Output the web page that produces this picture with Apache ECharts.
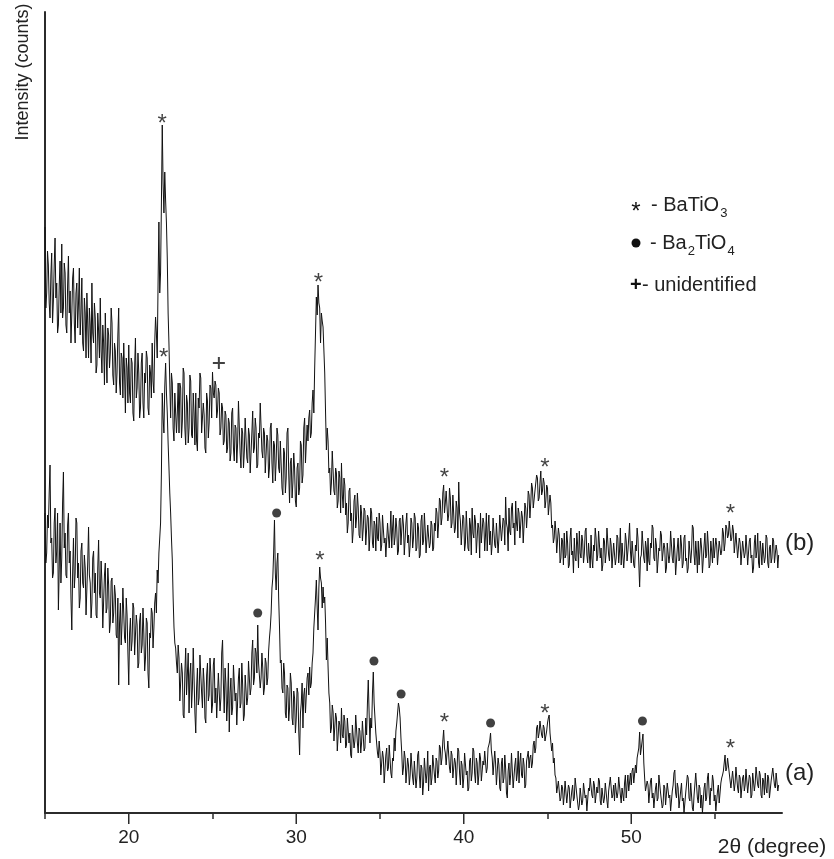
<!DOCTYPE html>
<html>
<head>
<meta charset="utf-8">
<title>XRD patterns</title>
<script src="https://cdn.jsdelivr.net/npm/echarts@6/dist/echarts.min.js"></script>
<style>
  html, body { margin: 0; padding: 0; background: #fff; }
  #chart { width: 834px; height: 859px; }
</style>
</head>
<body>
<div id="chart"></div>
<script>
// scan: 15.00 .. 58.80 deg, step 0.05 (one row = 1 deg)
const startAngle = 15
const stepAngle = 0.05

// sample (b), intensity
const intensityB = [
  586, 505, 520, 562, 548, 510, 495, 538, 560, 490, 512, 548, 575, 515, 530, 480, 488, 528, 552, 500,
  569, 495, 505, 550, 540, 488, 480, 528, 557, 500, 522, 470, 498, 535, 545, 490, 470, 520, 530, 485,
  510, 545, 478, 500, 535, 470, 462, 515, 500, 455, 520, 490, 455, 505, 488, 450, 530, 480, 470, 510,
  495, 440, 448, 500, 482, 455, 515, 462, 440, 488, 470, 428, 500, 460, 430, 485, 478, 445, 460, 505,
  490, 438, 428, 470, 462, 420, 440, 478, 505, 430, 418, 460, 455, 415, 470, 440, 400, 455, 445, 410,
  468, 420, 410, 455, 450, 400, 392, 445, 475, 415, 425, 460, 440, 395, 405, 450, 460, 410, 395, 440,
  430, 462, 455, 405, 398, 448, 440, 415, 470, 432, 420, 470, 496, 480, 455, 530, 591, 520, 540, 610,
  688, 630, 600, 641, 613, 590, 555, 500, 470, 430, 395, 440, 430, 385, 372, 420, 418, 380, 400, 430,
  380, 430, 425, 375, 392, 445, 440, 385, 368, 418, 410, 370, 385, 438, 432, 378, 375, 420, 400, 368,
  420, 372, 362, 415, 405, 440, 435, 380, 378, 410, 398, 365, 360, 420, 412, 375, 390, 428, 425, 395,
  441, 420, 415, 432, 428, 395, 402, 425, 420, 378, 385, 410, 405, 368, 372, 402, 398, 360, 365, 395,
  390, 352, 360, 400, 405, 365, 352, 388, 385, 350, 370, 412, 412, 360, 345, 385, 380, 345, 362, 395,
  395, 355, 350, 385, 378, 340, 340, 380, 402, 360, 365, 395, 385, 345, 348, 380, 375, 410, 410, 362,
  355, 385, 380, 340, 338, 378, 372, 335, 345, 385, 390, 350, 330, 372, 368, 332, 352, 385, 378, 345,
  340, 372, 372, 325, 318, 365, 360, 320, 335, 380, 385, 340, 310, 350, 355, 315, 330, 360, 345, 312,
  306, 345, 350, 318, 325, 372, 368, 330, 338, 385, 395, 350, 352, 388, 372, 395, 403, 375, 380, 410,
  423, 400, 445, 480, 516, 498, 528, 510, 505, 470, 500, 492, 486, 463, 440, 400, 363, 385, 372, 340,
  345, 318, 330, 362, 360, 322, 318, 345, 340, 305, 312, 342, 335, 300, 350, 318, 305, 335, 328, 298,
  310, 280, 290, 322, 325, 292, 300, 270, 282, 312, 318, 285, 295, 320, 305, 278, 275, 308, 300, 272,
  285, 305, 302, 268, 270, 298, 295, 262, 278, 305, 300, 270, 265, 292, 288, 262, 296, 275, 272, 300,
  290, 262, 268, 298, 300, 270, 275, 256, 258, 290, 292, 265, 280, 302, 265, 285, 298, 268, 276, 295,
  285, 258, 262, 292, 295, 268, 270, 298, 288, 258, 260, 290, 300, 270, 278, 256, 268, 295, 290, 265,
  275, 300, 295, 262, 265, 290, 285, 255, 258, 292, 298, 268, 272, 300, 282, 260, 262, 288, 290, 265,
  270, 292, 288, 262, 265, 290, 282, 305, 300, 275, 290, 315, 312, 288, 295, 320, 328, 300, 310, 322,
  320, 292, 298, 325, 315, 285, 290, 318, 318, 280, 285, 312, 305, 275, 331, 300, 292, 268, 270, 298,
  295, 262, 270, 302, 300, 265, 262, 295, 288, 258, 305, 280, 275, 298, 292, 260, 258, 290, 285, 255,
  300, 270, 268, 295, 290, 262, 278, 300, 262, 285, 298, 268, 282, 258, 270, 295, 295, 268, 265, 290,
  288, 260, 275, 298, 300, 272, 270, 295, 292, 268, 316, 290, 285, 262, 305, 282, 278, 305, 310, 285,
  290, 268, 312, 290, 282, 305, 300, 275, 275, 302, 296, 270, 288, 310, 305, 285, 300, 322, 318, 295,
  310, 330, 325, 305, 305, 322, 320, 338, 335, 312, 315, 330, 342, 318, 322, 335, 330, 305, 312, 328,
  325, 298, 300, 318, 310, 285, 288, 270, 275, 292, 282, 260, 262, 285, 278, 250, 255, 275, 272, 248,
  280, 255, 258, 282, 270, 245, 248, 275, 285, 258, 262, 240, 275, 255, 252, 280, 268, 245, 282, 260,
  255, 278, 272, 250, 260, 282, 285, 258, 250, 270, 268, 245, 278, 255, 245, 268, 262, 285, 275, 252,
  258, 282, 280, 255, 265, 242, 248, 275, 272, 250, 260, 285, 283, 258, 252, 275, 268, 245, 245, 270,
  270, 248, 255, 278, 275, 250, 262, 285, 248, 270, 268, 245, 258, 280, 272, 252, 262, 275, 290, 262,
  250, 272, 270, 248, 245, 268, 262, 285, 275, 250, 226, 255, 258, 282, 280, 255, 250, 272, 265, 242,
  275, 252, 248, 270, 265, 288, 285, 255, 252, 275, 268, 240, 240, 265, 262, 282, 278, 252, 250, 270,
  265, 240, 245, 270, 272, 250, 258, 282, 282, 255, 250, 275, 262, 238, 240, 265, 275, 252, 255, 278,
  268, 245, 250, 275, 278, 252, 255, 240, 245, 272, 270, 250, 262, 288, 285, 258, 248, 272, 260, 240,
  272, 248, 250, 275, 265, 240, 242, 268, 280, 255, 258, 282, 268, 245, 248, 272, 262, 250, 275, 255,
  255, 275, 268, 248, 250, 272, 272, 258, 262, 285, 280, 262, 270, 288, 285, 275, 278, 292, 290, 272,
  275, 288, 282, 260, 262, 280, 278, 255, 255, 275, 270, 248, 248, 272, 272, 255, 260, 278, 265, 248,
  250, 272, 275, 255, 258, 240, 245, 270, 278, 255, 262, 280, 250, 245, 272, 262, 248, 270, 268, 250,
  256, 278, 275, 250, 245, 265, 268, 250, 255, 275, 272, 250, 250, 268, 262, 245, 258
]

// sample (a)
const intensityA = [
  300, 250, 260, 298, 285, 320, 348, 270, 275, 235, 240, 290, 305, 250, 262, 300, 203, 245, 290, 230,
  255, 310, 341, 265, 280, 238, 235, 288, 300, 250, 262, 215, 183, 240, 275, 225, 240, 295, 290, 235,
  250, 205, 215, 262, 270, 230, 225, 258, 245, 198, 200, 250, 286, 238, 230, 195, 210, 255, 262, 220,
  240, 198, 195, 245, 273, 220, 215, 252, 230, 185, 185, 238, 250, 200, 205, 245, 228, 180, 190, 232,
  235, 190, 200, 228, 218, 178, 175, 215, 128, 190, 210, 168, 190, 225, 225, 175, 170, 215, 198, 160,
  128, 180, 195, 162, 172, 210, 205, 158, 160, 198, 188, 145, 150, 192, 200, 160, 168, 205, 180, 142,
  155, 195, 190, 140, 125, 180, 175, 205, 200, 165, 185, 210, 220, 200, 243, 230, 260, 275, 290, 340,
  420, 395, 380, 426, 450, 420, 400, 370, 346, 320, 300, 275, 253, 215, 186, 170, 165, 150, 140, 168,
  155, 112, 110, 150, 140, 98, 95, 140, 165, 118, 120, 160, 100, 138, 150, 105, 125, 165, 135, 100,
  80, 125, 145, 108, 115, 158, 160, 120, 105, 145, 130, 95, 90, 138, 150, 112, 118, 155, 140, 100,
  108, 148, 155, 110, 125, 95, 95, 140, 140, 102, 115, 160, 173, 130, 100, 145, 130, 92, 112, 150,
  81, 120, 135, 98, 105, 148, 150, 112, 120, 88, 90, 135, 145, 105, 110, 150, 128, 92, 98, 138,
  140, 108, 115, 152, 150, 118, 125, 160, 173, 128, 135, 165, 160, 140, 188, 150, 150, 125, 135, 160,
  145, 118, 125, 155, 150, 128, 135, 162, 175, 185, 200, 225, 235, 260, 293, 240, 223, 250, 260, 215,
  186, 150, 153, 125, 120, 150, 140, 100, 95, 128, 125, 92, 105, 140, 130, 95, 88, 122, 115, 80,
  95, 125, 120, 82, 58, 100, 110, 130, 85, 118, 125, 100, 100, 135, 140, 118, 146, 125, 130, 150,
  160, 185, 200, 215, 233, 205, 183, 225, 246, 235, 230, 205, 226, 210, 216, 190, 153, 175, 146, 120,
  110, 80, 85, 108, 101, 72, 70, 100, 95, 62, 60, 92, 88, 70, 105, 78, 75, 98, 92, 65,
  68, 95, 95, 70, 80, 58, 55, 88, 88, 65, 72, 98, 98, 70, 60, 85, 82, 60, 70, 92,
  90, 62, 65, 95, 78, 110, 133, 100, 70, 95, 85, 120, 141, 110, 95, 80, 70, 60, 55, 72,
  60, 38, 40, 62, 55, 30, 30, 58, 65, 42, 45, 68, 70, 40, 35, 55, 52, 75, 62, 82,
  90, 100, 110, 105, 95, 75, 60, 38, 45, 62, 55, 30, 32, 55, 48, 28, 38, 60, 58, 35,
  28, 52, 50, 25, 35, 58, 62, 38, 25, 48, 45, 18, 30, 55, 55, 30, 40, 62, 22, 45,
  48, 28, 35, 58, 60, 38, 30, 55, 52, 35, 42, 68, 65, 48, 55, 72, 83, 65, 60, 48,
  50, 72, 70, 45, 40, 62, 58, 35, 33, 55, 50, 28, 45, 65, 62, 40, 28, 52, 48, 25,
  35, 60, 58, 38, 42, 22, 25, 52, 55, 32, 40, 65, 62, 40, 30, 55, 50, 28, 38, 60,
  55, 32, 30, 52, 48, 62, 60, 40, 45, 65, 68, 72, 80, 62, 55, 38, 40, 62, 50, 28,
  30, 55, 48, 25, 22, 50, 55, 30, 35, 58, 45, 20, 15, 42, 50, 28, 38, 60, 42, 25,
  25, 48, 55, 32, 40, 62, 30, 50, 60, 38, 35, 55, 48, 25, 28, 52, 50, 62, 45, 55,
  58, 45, 50, 68, 72, 60, 65, 85, 88, 75, 80, 92, 93, 78, 75, 88, 85, 72, 70, 82,
  90, 95, 98, 80, 78, 62, 70, 50, 55, 38, 35, 20, 22, 32, 30, 12, 15, 28, 25, 8,
  18, 32, 30, 10, 10, 28, 25, 5, 5, 22, 28, 12, 15, 35, 35, 18, 20, 3, 8, 25,
  25, 8, 12, 30, 30, 15, 18, 2, 3, 25, 22, 35, 36, 18, 15, 32, 28, 10, 10, 26,
  20, 35, 32, 12, 8, 25, 25, 10, 15, 30, 30, 12, 5, 22, 22, 36, 34, 15, 18, 28,
  12, 30, 28, 15, 20, 36, 35, 18, 10, 25, 25, 12, 30, 38, 15, 28, 38, 22, 22, 40,
  28, 42, 45, 30, 30, 48, 40, 55, 55, 65, 81, 58, 60, 72, 79, 50, 35, 22, 20, 32,
  28, 10, 12, 32, 35, 15, 20, 5, 5, 25, 30, 12, 15, 38, 40, 20, 22, 5, 8, 28,
  25, 8, 10, 30, 32, 15, 18, 2, 3, 22, 28, 40, 43, 20, 15, 30, 25, 5, 5, 22,
  30, 12, 15, 0, 0, 20, 22, 38, 35, 15, 12, 30, 28, 5, 2, 18, 20, 40, 38, 15,
  10, 28, 25, 5, 18, 0, 0, 25, 30, 12, 15, 35, 40, 20, 8, 25, 22, 38, 32, 12,
  18, 2, 0, 22, 28, 10, 12, 30, 35, 38, 42, 50, 58, 42, 45, 55, 55, 40, 38, 25,
  25, 42, 40, 22, 30, 46, 45, 25, 20, 38, 35, 15, 15, 35, 38, 22, 28, 44, 42, 20,
  22, 38, 35, 15, 18, 40, 40, 22, 30, 46, 46, 28, 25, 42, 38, 18, 15, 35, 32, 18,
  40, 25, 20, 38, 35, 15, 13, 32, 30, 45, 45, 28, 25, 40, 38, 22, 28
]

// peak marks [2theta, height]
const starMarks = [
  [21.99, 695], [31.33, 536], [38.85, 341], [44.84, 351], [55.92, 305],
  [22.09, 461], [31.41, 258], [38.85, 96], [44.84, 105], [55.92, 70]
]
const dotMarks = [[27.7, 200], [28.83, 300], [34.64, 152], [36.26, 119], [41.6, 90], [50.67, 92]]
const plusMarks = [[25.38, 450]]

const majorTicks = [20, 30, 40, 50]
const minorTicks = [15, 25, 35, 45, 55]

const FONT = "'Liberation Sans', Arial, Helvetica, sans-serif"
const INK = '#111'
const AXIS = '#2b2b2b'

const toPairs = (arr) => arr.map((v, i) => [Math.round((startAngle + i * stepAngle) * 100) / 100, v])

const chart = echarts.init(document.getElementById('chart'), null, {renderer: 'canvas'})

// long ticks under the labelled values, placed with the x scale
function renderMajorTick(params, api) {
  const p = api.coord([api.value(0), 0])
  return {
    type: 'line',
    shape: {x1: p[0], y1: p[1], x2: p[0], y2: p[1] + 11},
    style: {stroke: AXIS, lineWidth: 1.5}
  }
}

const option = {
  animation: false,
  backgroundColor: '#fff',
  textStyle: {fontFamily: FONT},
  grid: {left: 45, right: 52, top: 12, bottom: 46},
  xAxis: [
    {
      // line and labels every 10 deg
      type: 'value',
      min: 15,
      max: 59,
      axisLine: {show: true, onZero: false, lineStyle: {color: AXIS, width: 2}},
      axisTick: {show: false},
      axisLabel: {show: true, customValues: majorTicks.slice(), margin: 15, fontSize: 19, color: '#222', fontFamily: FONT},
      splitLine: {show: false}
    },
    {
      // short ticks at the half-decades
      type: 'value',
      min: 15,
      max: 59,
      position: 'bottom',
      axisLine: {show: false, onZero: false},
      axisTick: {show: true, customValues: minorTicks.slice(), length: 6, lineStyle: {color: AXIS, width: 1.5}},
      axisLabel: {show: false},
      splitLine: {show: false}
    }
  ],
  yAxis: {
    type: 'value',
    min: 0,
    max: 801,
    axisLine: {show: true, lineStyle: {color: AXIS, width: 2}},
    axisTick: {show: false},
    axisLabel: {show: false},
    splitLine: {show: false}
  },
  series: [
    {
      name: '(a)',
      type: 'line',
      data: toPairs(intensityA),
      showSymbol: false,
      symbol: 'none',
      lineStyle: {color: INK, width: 1},
      z: 2
    },
    {
      name: '(b)',
      type: 'line',
      data: toPairs(intensityB),
      showSymbol: false,
      symbol: 'none',
      lineStyle: {color: INK, width: 1},
      z: 2
    },
    {
      name: 'BaTiO3',
      type: 'scatter',
      data: starMarks,
      symbolSize: 0,
      label: {show: true, position: 'inside', formatter: '*', fontSize: 24, color: INK, offset: [0, 6], fontFamily: FONT},
      z: 3
    },
    {
      name: 'Ba2TiO4',
      type: 'scatter',
      data: dotMarks,
      symbol: 'circle',
      symbolSize: 9,
      itemStyle: {color: INK},
      z: 3
    },
    {
      name: 'unidentified',
      type: 'scatter',
      data: plusMarks,
      symbol: 'path://M5,0h2v5h5v2h-5v5h-2v-5h-5v-2h5z',
      symbolSize: 12,
      itemStyle: {color: INK},
      z: 3
    },
    {
      name: 'majorTicks',
      type: 'custom',
      data: majorTicks.map((v) => [v, 0]),
      renderItem: renderMajorTick,
      clip: false,
      silent: true,
      z: 5
    }
  ],
  graphic: [
    // axis titles
    {
      type: 'text', x: 23, y: 72, rotation: Math.PI / 2,
      style: {text: 'Intensity (counts)', font: '18px ' + FONT, fill: '#222', textAlign: 'center', textVerticalAlign: 'middle'}
    },
    {
      type: 'text', x: 772, y: 847,
      style: {text: '2θ (degree)', font: '21px ' + FONT, fill: '#222', textAlign: 'center', textVerticalAlign: 'middle'}
    },
    // trace labels
    {type: 'text', x: 785, y: 543, style: {text: '(b)', font: '24px ' + FONT, fill: '#222', textVerticalAlign: 'middle'}},
    {type: 'text', x: 785, y: 773, style: {text: '(a)', font: '24px ' + FONT, fill: '#222', textVerticalAlign: 'middle'}},
    // key
    {type: 'text', x: 636, y: 212, style: {text: '*', font: '24px ' + FONT, fill: INK, textAlign: 'center', textVerticalAlign: 'middle'}},
    {
      type: 'text', x: 651, y: 205,
      style: {
        text: '- BaTiO{sub|3}', font: '20px ' + FONT, fill: '#222', textVerticalAlign: 'middle',
        rich: {sub: {fontSize: 13, padding: [16, 0, 0, 1], fill: '#222'}}
      }
    },
    {type: 'circle', shape: {cx: 636, cy: 243, r: 4.5}, style: {fill: INK}},
    {
      type: 'text', x: 650, y: 243,
      style: {
        text: '- Ba{sub|2}TiO{sub|4}', font: '20px ' + FONT, fill: '#222', textVerticalAlign: 'middle',
        rich: {sub: {fontSize: 13, padding: [16, 0, 0, 1], fill: '#222'}}
      }
    },
    {
      type: 'text', x: 630, y: 285,
      style: {text: '+', font: 'bold 20px ' + FONT, fill: INK, textVerticalAlign: 'middle'}
    },
    {
      type: 'text', x: 642, y: 285,
      style: {text: '- unidentified', font: '20px ' + FONT, fill: '#222', textVerticalAlign: 'middle'}
    }
  ]
}

chart.setOption(option)
</script>
</body>
</html>
